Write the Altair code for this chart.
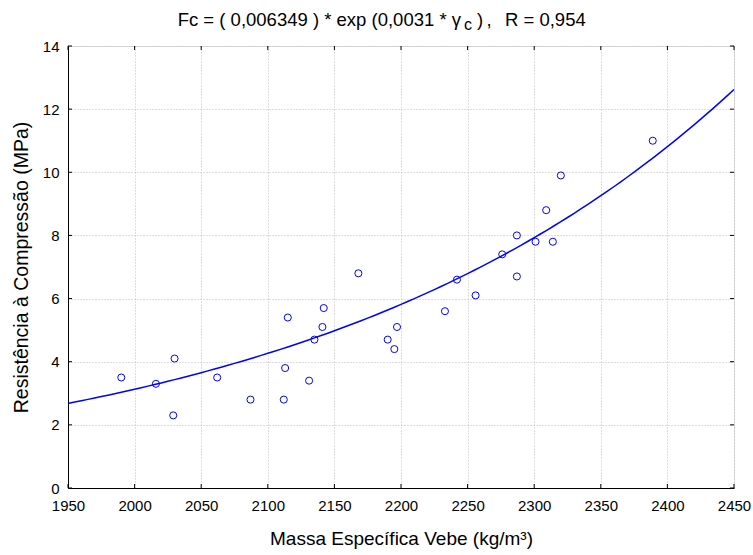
import altair as alt
import pandas as pd

# ---- data ----
density = [1990, 2016, 2030, 2029, 2062, 2087, 2112, 2113, 2115, 2131, 2135, 2141, 2142,
           2168, 2190, 2195, 2197, 2233, 2242, 2256, 2276, 2287, 2287, 2301, 2309, 2314,
           2320, 2389]
strength = [3.5, 3.3, 4.1, 2.3, 3.5, 2.8, 2.8, 3.8, 5.4, 3.4, 4.7, 5.1, 5.7,
            6.8, 4.7, 4.4, 5.1, 5.6, 6.6, 6.1, 7.4, 8.0, 6.7, 7.8, 8.8, 7.8,
            9.9, 11.0]

# fitted model, coefficients from the chart title
FIT_A = 0.006349
FIT_B = 0.0031

x_ticks = [1950, 2000, 2050, 2100, 2150, 2200, 2250, 2300, 2350, 2400, 2450]
y_ticks = [0, 2, 4, 6, 8, 10, 12, 14]

title_main = "Fc = ( 0,006349 ) * exp (0,0031 * \u03b3"
title_sub = "c"
title_paren = ")"
title_comma = ","
title_r = "R = 0,954"
x_title = "Massa Espec\u00edfica Vebe (kg/m\u00b3)"
y_title = "Resist\u00eancia \u00e0 Compress\u00e3o (MPa)"

W, H = 666, 442
L, T = 68, 46
FONT = "Liberation Sans"
BLUE = "#0000ff"

xs = alt.Scale(domain=[1950, 2450], nice=False, zero=False)
ys = alt.Scale(domain=[0, 14], nice=False, zero=False)

common_axis = dict(tickSize=0, grid=True, gridDash=[1, 2], gridColor="#bdbdbd",
                   labelFontSize=15, labelFont=FONT, titleFont=FONT,
                   labelColor="black", titleColor="black", titleFontWeight="normal",
                   domainColor="black", labelFlush=False, format="d")

pts = pd.DataFrame({"d": density, "s": strength})

points = alt.Chart(pts).mark_point(
    shape="circle", filled=False, color=BLUE, size=50, strokeWidth=1, opacity=1
).encode(
    x=alt.X("d:Q", scale=xs, title=x_title,
            axis=alt.Axis(values=x_ticks, labelPadding=10, titlePadding=16,
                          titleFontSize=19, **common_axis)),
    y=alt.Y("s:Q", scale=ys, title=y_title,
            axis=alt.Axis(values=y_ticks, labelPadding=9, titlePadding=11,
                          titleFontSize=19.5, **common_axis)),
)

curve = alt.Chart(alt.sequence(1950, 2451, 5, as_="d")).transform_calculate(
    s=f"{FIT_A} * exp({FIT_B} * datum.d)"
).mark_line(color=BLUE, strokeWidth=1.5).encode(
    x=alt.X("d:Q", scale=xs),
    y=alt.Y("s:Q", scale=ys),
)

xt = pd.DataFrame({"d": x_ticks})
yt = pd.DataFrame({"s": y_ticks})

tick_bottom = alt.Chart(xt).mark_rule(color="black", strokeWidth=1).encode(
    x=alt.X("d:Q", scale=xs), y=alt.value(H), y2=alt.value(H - 4))
tick_top = alt.Chart(xt).mark_rule(color="black", strokeWidth=1).encode(
    x=alt.X("d:Q", scale=xs), y=alt.value(0), y2=alt.value(4))
tick_left = alt.Chart(yt).mark_rule(color="black", strokeWidth=1).encode(
    y=alt.Y("s:Q", scale=ys), x=alt.value(0), x2=alt.value(4))
tick_right = alt.Chart(yt).mark_rule(color="black", strokeWidth=1).encode(
    y=alt.Y("s:Q", scale=ys), x=alt.value(W), x2=alt.value(W - 4))


def label(text, x, y, size, align):
    return alt.Chart(pd.DataFrame({"t": [text]})).mark_text(
        font=FONT, fontSize=size, align=align, baseline="alphabetic", color="black"
    ).encode(text="t:N", x=alt.value(x - L), y=alt.value(y - T))


t1 = label(title_main, 461, 26, 18.5, "right")
t2 = label(title_sub, 464, 29.5, 16, "left")
t3 = label(title_paren, 477, 26, 18.5, "left")
t4 = label(title_comma, 486.5, 26, 18.5, "left")
t5 = label(title_r, 505, 26, 18.5, "left")

chart = alt.layer(
    points, curve, tick_bottom, tick_top, tick_left, tick_right, t1, t2, t3, t4, t5
).properties(
    width=W, height=H, autosize="none",
    padding={"left": L, "top": T, "right": 753 - L - W, "bottom": 555 - T - H},
).configure_view(stroke="black", strokeWidth=1).configure(background="white")

chart.save("out.html", embed_options={"renderer": "svg", "actions": False})
